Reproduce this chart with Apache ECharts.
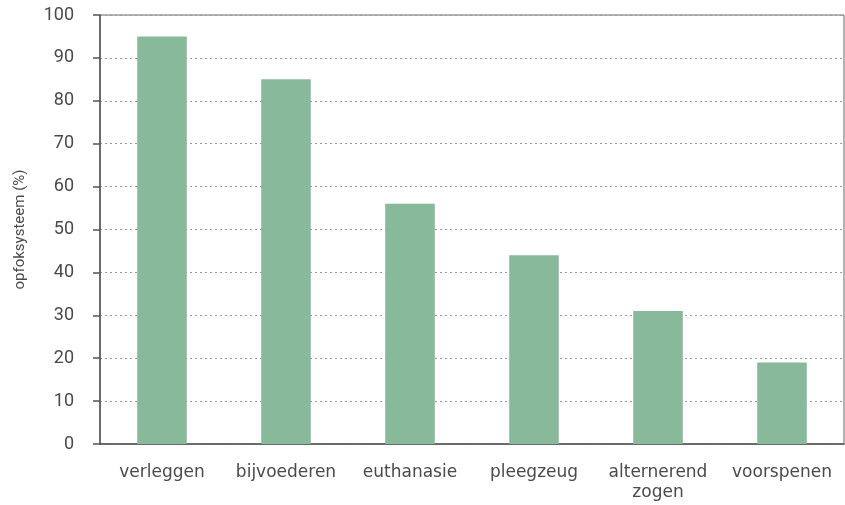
<!DOCTYPE html>
<html>
<head>
<meta charset="utf-8">
<script src="https://cdn.jsdelivr.net/npm/echarts@6/dist/echarts.min.js"></script>
<style>
  html, body { margin: 0; padding: 0; background: #fff; }
  #chart { width: 845px; height: 505px; }
</style>
</head>
<body>
<div id="chart"></div>
<script>
// opfoksysteem per categorie
var categories = ['verleggen', 'bijvoederen', 'euthanasie', 'pleegzeug', 'alternerend\nzogen', 'voorspenen'];
var values = [95, 85, 56, 44, 31, 19];
var yTicks = [0, 100, 10]; // min, max, interval

var textColor = '#4a4a4a';
var lineColor = '#555';

var option = {
    animation: false,
    textStyle: { fontFamily: 'DejaVu Sans' },
    grid: {
        left: 100,
        right: 1,
        top: 15,
        bottom: 61,
        show: true,
        borderColor: '#666',
        borderWidth: 1
    },
    xAxis: {
        type: 'category',
        data: categories,
        axisLine: { lineStyle: { color: lineColor, width: 1.5 } },
        axisTick: { length: 8, lineStyle: { color: lineColor, width: 1.5 } },
        axisLabel: {
            color: textColor,
            fontSize: 17,
            margin: 19,
            lineHeight: 20,
            interval: 0
        }
    },
    yAxis: {
        type: 'value',
        min: yTicks[0],
        max: yTicks[1],
        interval: yTicks[2],
        name: 'opfoksysteem (%)',
        nameLocation: 'middle',
        nameGap: 72,
        nameTextStyle: { color: textColor, fontSize: 15, fontFamily: 'Roboto' },
        axisLine: { show: true, lineStyle: { color: lineColor, width: 1.5 } },
        axisTick: { show: true, length: 7, lineStyle: { color: lineColor, width: 1.5 } },
        axisLabel: { color: textColor, fontSize: 18, fontFamily: 'Roboto', margin: 26 },
        splitLine: { lineStyle: { color: '#999', type: [2, 3], width: 1 } }
    },
    series: [{
        type: 'bar',
        data: values,
        barWidth: '40%',
        itemStyle: { color: '#89b99b' }
    }]
};

var myChart = echarts.init(document.getElementById('chart'));
myChart.setOption(option);
</script>
</body>
</html>
